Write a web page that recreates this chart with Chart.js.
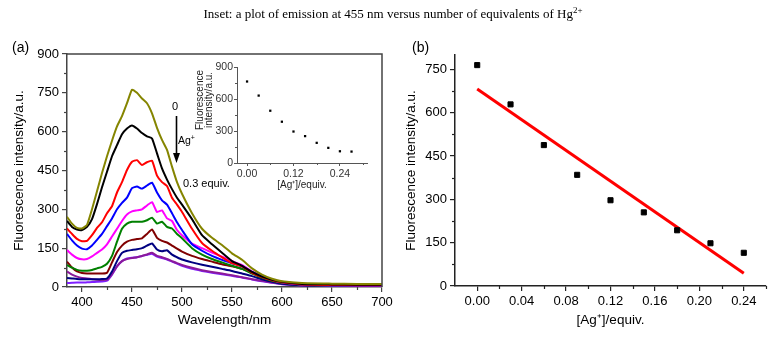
<!DOCTYPE html>
<html><head><meta charset="utf-8">
<script src="https://cdn.jsdelivr.net/npm/chart.js@4/dist/chart.umd.min.js"></script>
<style>
html,body{margin:0;padding:0;background:#fff;}
body{width:774px;height:337px;position:relative;overflow:hidden;font-family:"Liberation Sans",Arial,sans-serif;}
canvas{position:absolute;}
.txt{position:absolute;white-space:nowrap;color:#000;line-height:1;}
</style></head><body>
<canvas id="chartA" width="400" height="337" style="left:0;top:0"></canvas>
<canvas id="chartInset" width="205" height="140" style="left:170px;top:55px"></canvas>
<canvas id="chartB" width="379" height="337" style="left:395px;top:0"></canvas>

<div class="txt" style="left:393px;top:6px;transform:translateX(-50%);font-family:'Liberation Serif','Times New Roman',serif;font-size:13px;">Inset: a plot of emission at 455 nm versus number of equivalents of Hg<sup style="font-size:9px;vertical-align:5px">2+</sup></div>
<div class="txt" style="left:12px;top:40px;font-size:14px;">(a)</div>
<div class="txt" style="left:412px;top:40px;font-size:14px;">(b)</div>
<div class="txt" style="left:172px;top:101px;font-size:11px;">0</div>
<div class="txt" style="left:178px;top:134px;font-size:10.5px;">Ag<sup style="font-size:7px;vertical-align:4px">+</sup></div>
<div class="txt" style="left:183px;top:178px;font-size:11px;">0.3 equiv.</div>
<div class="txt" style="left:203.5px;top:100px;transform:translate(-50%,-50%) rotate(-90deg);font-size:10px;line-height:8.5px;text-align:center;color:#222;">Fluorescence<br>intensity/a.u.</div>
<svg style="position:absolute;left:0;top:0" width="774" height="337">
  <line x1="176.5" y1="116" x2="176.5" y2="156" stroke="#000" stroke-width="1.6"/>
  <polygon points="173,153 180,153 176.5,163" fill="#000"/>
</svg>

<script>
// ---------- Panel (a): emission spectra ----------
const wavelengths = [385,390,395,400,405,410,415,420,425,430,435,440,445,450,455,460,465,470,475,480,485,490,495,500,510,520,530,540,550,560,570,580,590,600,620,650,675,700];
const spectrum0 = [271,245,228,226,240,300,370,440,505,565,620,660,710,762,750,728,710,671,615,568,530,465,405,360,285,225,190,162,130,105,72,48,32,22,15,13,12,12];
const spectrum1 = [255,232,222,220,232,262,320,385,445,505,548,590,612,624,612,595,582,574,516,458,415,378,345,318,262,200,165,132,100,82,58,40,28,20,12,10,9,9];
const spectrum2 = [226,205,186,177,178,200,228,250,285,312,365,405,452,484,490,471,482,488,430,405,390,345,318,290,225,170,140,115,92,80,55,38,26,18,10,8,7,7];
const spectrum3 = [205,180,160,148,146,160,182,205,235,265,300,325,345,382,388,380,392,403,365,335,318,285,250,220,165,140,120,105,92,80,58,42,28,18,10,7,6,6];
const spectrum4 = [143,125,112,107,108,118,132,145,165,195,225,255,280,292,296,300,315,328,290,296,265,255,220,200,168,150,133,117,100,85,60,42,28,18,10,6,5,5];
const spectrum5 = [85,75,66,63,63,66,72,78,90,120,175,225,245,252,252,252,258,268,245,252,232,226,205,188,150,125,108,95,82,70,52,36,24,16,9,6,5,5];
const spectrum6 = [98,75,60,54,52,52,52,52,55,95,135,160,175,182,185,188,205,222,190,178,172,160,148,137,120,108,98,88,80,70,55,38,26,17,10,8,7,7];
const spectrum7 = [35,33,31,30,30,30,30,31,33,60,100,132,140,143,146,150,160,168,145,138,142,125,115,106,95,86,78,70,62,52,42,30,20,13,7,5,5,5];
const spectrum8 = [60,48,40,35,33,30,28,27,28,50,80,100,108,112,115,120,126,132,120,115,108,100,92,85,74,65,58,52,45,38,30,24,17,12,6,4,3,3];
const spectrum9 = [15,16,17,17,18,19,20,21,24,48,80,100,110,113,115,120,124,128,118,112,106,98,90,82,70,62,55,49,43,37,29,22,16,11,6,4,3,3];
const spectra = [spectrum0,spectrum1,spectrum2,spectrum3,spectrum4,spectrum5,spectrum6,spectrum7,spectrum8,spectrum9];
const spectrumColors = ['#858500','#000000','#ff0000','#0000ff','#ff00ff','#008000','#800000','#000080','#8b1a9b','#7f1fff'];
const xTicksA = [400,450,500,550,600,650,700];
const yTicksA = [0,150,300,450,600,750,900];
const xMinorA = [425,475,525,575,625,675];
const yMinorA = [75,225,375,525,675,825];

// ---------- Inset ----------
const insetEquiv = [0,0.03,0.06,0.09,0.12,0.15,0.18,0.21,0.24,0.27];
const insetIntensity = [764,632,490,387,295,252,189,142,110,107];
const xTicksInset = [0,0.12,0.24];
const yTicksInset = [0,300,600,900];
const xMinorInset = [0.06,0.18,0.30];
const yMinorInset = [150,450,750];

// ---------- Panel (b) ----------
const equiv = [0,0.03,0.06,0.09,0.12,0.15,0.18,0.21,0.24];
const intensity455 = [765,629,488,385,297,255,193,148,115];
const fitEquiv = [0,0.24];
const fitIntensity = [682,44];
const xTicksB = [0,0.04,0.08,0.12,0.16,0.20,0.24];
const yTicksB = [0,150,300,450,600,750];
const xMinorB = [0.02,0.06,0.10,0.14,0.18,0.22,0.26];
const yMinorB = [75,225,375,525,675];

Chart.defaults.font.family = "'Liberation Sans', Arial, sans-serif";
Chart.defaults.color = '#000';

function fixedTicks(values){ return function(scale){ scale.ticks = values.map(v => ({value:v})); }; }
function toXY(xs, ys){ return xs.map((x,i) => ({x:x, y:ys[i]})); }

const minorTicks = {
  id:'minorTicks',
  afterDraw(chart, args, opts){
    const ctx = chart.ctx;
    ctx.save();
    ctx.strokeStyle = opts.color || '#333';
    ctx.lineWidth = opts.width || 1;
    ['x','y'].forEach(id => {
      const s = chart.scales[id];
      (opts[id] || []).forEach(v => {
        const p = Math.round(s.getPixelForValue(v)) + 0.5;
        ctx.beginPath();
        if (id === 'x') { ctx.moveTo(p, s.top); ctx.lineTo(p, s.top + opts.len); }
        else { ctx.moveTo(s.right, p); ctx.lineTo(s.right - opts.len, p); }
        ctx.stroke();
      });
    });
    ctx.restore();
  }
};
const frame = {
  id:'frame',
  afterDraw(chart, args, opts){
    const a = chart.chartArea, ctx = chart.ctx;
    ctx.save();
    ctx.strokeStyle = opts.color; ctx.lineWidth = opts.width;
    ctx.beginPath();
    ctx.moveTo(a.left, a.top); ctx.lineTo(a.right, a.top); ctx.lineTo(a.right, a.bottom);
    ctx.stroke();
    ctx.restore();
  }
};

const base = {
  animation:false, responsive:false, maintainAspectRatio:false, devicePixelRatio:1, events:[],
};

// Panel (a)
new Chart(document.getElementById('chartA'), {
  type:'line',
  data:{ datasets: spectra.map((s,i) => ({
    data: toXY(wavelengths, s), borderColor: spectrumColors[i], borderWidth: 2,
    pointRadius: 0, tension: 0.15, fill: false
  })) },
  options: Object.assign({}, base, {
    layout:{ autoPadding:false, padding:{left:0, top:54, right:18, bottom:0} },
    plugins:{ legend:{display:false}, tooltip:{enabled:false},
      minorTicks:{ x:xMinorA, y:yMinorA, len:3, color:'#444', width:1.2 },
      frame:{ color:'#444', width:1.5 } },
    scales:{
      x:{ type:'linear', min:385, max:700,
        afterBuildTicks: fixedTicks(xTicksA), afterFit: s => { s.height = 50; },
        grid:{ drawOnChartArea:false, tickLength:5, color:'#444', lineWidth:1.2 },
        border:{ color:'#444', width:1.5 },
        ticks:{ font:{size:13}, color:'#000', padding:3, maxRotation:0, callback: v => String(v) },
        title:{ display:true, text:'Wavelength/nm', font:{size:13.5}, color:'#000', padding:{top:0,bottom:9} } },
      y:{ type:'linear', min:0, max:900,
        afterBuildTicks: fixedTicks(yTicksA), afterFit: s => { s.width = 67; },
        grid:{ drawOnChartArea:false, tickLength:5, color:'#444', lineWidth:1.2 },
        border:{ color:'#444', width:1.5 },
        ticks:{ font:{size:13}, color:'#000', padding:3, callback: v => String(v) },
        title:{ display:true, text:'Fluorescence intensity/a.u.', font:{size:13.5}, color:'#000', padding:{top:11,bottom:0} } }
    }
  }),
  plugins:[minorTicks, frame]
});

// Inset
new Chart(document.getElementById('chartInset'), {
  type:'scatter',
  data:{ datasets:[{ data: toXY(insetEquiv, insetIntensity), pointStyle:'rect', pointRadius:1.6,
    backgroundColor:'#000', borderColor:'#000', borderWidth:0 }] },
  options: Object.assign({}, base, {
    layout:{ autoPadding:false, padding:{left:0, top:12, right:8, bottom:0} },
    plugins:{ legend:{display:false}, tooltip:{enabled:false},
      minorTicks:{ x:xMinorInset, y:yMinorInset, len:2, color:'#555', width:1 } },
    scales:{
      x:{ type:'linear', min:-0.026, max:0.31,
        afterBuildTicks: fixedTicks(xTicksInset), afterFit: s => { s.height = 32; },
        grid:{ drawOnChartArea:false, tickLength:3, color:'#555', lineWidth:1 },
        border:{ color:'#555', width:1 },
        ticks:{ font:{size:10.5}, color:'#333', padding:2, maxRotation:0, callback: v => v.toFixed(2) },
        title:{ display:true, text:'[Ag\u207A]/equiv.', font:{size:10}, color:'#222', padding:{top:0,bottom:3.3} } },
      y:{ type:'linear', min:0, max:900,
        afterBuildTicks: fixedTicks(yTicksInset), afterFit: s => { s.width = 67; },
        grid:{ drawOnChartArea:false, tickLength:3, color:'#555', lineWidth:1 },
        border:{ color:'#555', width:1 },
        ticks:{ font:{size:10.5}, color:'#333', padding:1, callback: v => String(v) },
        title:{ display:false } }
    }
  }),
  plugins:[minorTicks]
});

// Panel (b)
new Chart(document.getElementById('chartB'), {
  type:'scatter',
  data:{ datasets:[
    { data: toXY(equiv, intensity455), pointStyle:'rect', pointRadius:3.6,
      backgroundColor:'#000', borderColor:'#000', borderWidth:1, order:0 },
    { type:'line', data: toXY(fitEquiv, fitIntensity), borderColor:'#ff0000', borderWidth:3,
      pointRadius:0, fill:false, tension:0, order:1 }
  ] },
  options: Object.assign({}, base, {
    layout:{ autoPadding:false, padding:{left:0, top:55, right:8, bottom:0} },
    plugins:{ legend:{display:false}, tooltip:{enabled:false},
      minorTicks:{ x:xMinorB, y:yMinorB, len:3, color:'#222', width:1.2 } },
    scales:{
      x:{ type:'linear', min:-0.02, max:0.26,
        afterBuildTicks: fixedTicks(xTicksB), afterFit: s => { s.height = 51; },
        grid:{ drawOnChartArea:false, tickLength:5, color:'#222', lineWidth:1.2 },
        border:{ color:'#222', width:1.5 },
        ticks:{ font:{size:13}, color:'#000', padding:3, maxRotation:0, callback: v => v.toFixed(2) },
        title:{ display:true, text:'[Ag\u207A]/equiv.', font:{size:13.5}, color:'#000', padding:{top:0,bottom:9} } },
      y:{ type:'linear', min:0, max:800,
        afterBuildTicks: fixedTicks(yTicksB), afterFit: s => { s.width = 60; },
        grid:{ drawOnChartArea:false, tickLength:5, color:'#222', lineWidth:1.2 },
        border:{ color:'#222', width:1.5 },
        ticks:{ font:{size:13}, color:'#000', padding:3, callback: v => String(v) },
        title:{ display:true, text:'Fluorescence intensity/a.u.', font:{size:13.5}, color:'#000', padding:{top:8,bottom:0} } }
    }
  }),
  plugins:[minorTicks]
});
</script>
</body></html>
